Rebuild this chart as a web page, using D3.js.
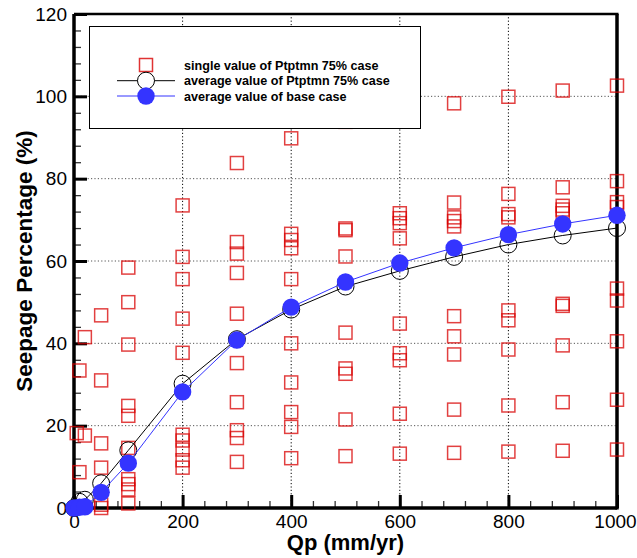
<!DOCTYPE html>
<html><head><meta charset="utf-8">
<script src="https://cdn.jsdelivr.net/npm/d3@7"></script>
<style>body{margin:0;background:#fff}svg{display:block}text{font-family:Arial,"Liberation Sans",sans-serif}</style>
</head><body><svg id="c" width="637" height="558"></svg>
<script>
// ---- data ----
const avgX = [0,10,20,50,100,200,300,400,500,600,700,800,900,1000];
const avgPtptmn75 = [0,1.5,2.0,6.0,14.0,30.2,41.0,48.2,53.8,57.6,61.0,64.0,66.2,68.0];
const avgBase = [0,0.2,0.3,3.8,10.9,28.2,40.8,48.8,54.9,59.5,63.2,66.4,69.0,71.1];

const singleX = [
  5,10,10,20,20,
  50,50,50,50,50,50,
  100,100,100,100,100,100,100,100,100,100,
  200,200,200,200,200,200,200,200,200,200,
  300,300,300,300,300,300,300,300,300,300,
  400,400,400,400,400,400,400,400,400,400,
  500,500,500,500,500,500,500,500,500,
  600,600,600,600,600,600,600,600,600,
  700,700,700,700,700,700,700,700,700,700,
  800,800,800,800,800,800,800,800,800,
  900,900,900,900,900,900,900,900,900,900,
  1000,1000,1000,1000,1000,1000,1000,1000,1000
];
const singleY = [
  18.2,33.4,8.7,41.5,17.6,
  46.8,31.0,15.7,9.8,0.8,0.0,
  58.4,50.0,39.7,24.8,22.4,14.6,7.0,5.8,4.5,1.1,
  73.5,61.0,55.6,46.0,37.7,17.8,16.4,14.2,11.6,9.8,
  83.8,64.6,61.8,57.1,47.2,35.2,25.7,18.9,17.0,11.2,
  89.8,66.6,65.1,63.1,55.6,40.0,30.5,23.3,19.7,12.1,
  93.8,67.9,67.5,61.1,42.6,33.9,32.6,21.5,12.6,
  71.6,70.4,69.2,65.5,44.8,37.6,35.9,22.9,13.2,
  98.3,74.2,70.6,69.7,68.4,46.6,41.7,37.3,23.9,13.4,
  99.9,76.3,71.4,70.6,48.0,45.6,38.5,24.9,13.7,
  101.4,77.9,73.4,72.5,71.6,49.6,49.1,39.5,25.7,13.9,
  102.6,79.4,74.3,73.1,53.3,50.4,40.5,26.3,14.2
];
const xMajorTicks = [0,200,400,600,800,1000];
const yMajorTicks = [0,20,40,60,80,100,120];
const legendLabels = ["single value of Ptptmn 75% case","average value of Ptptmn 75% case","average value of base case"];
const xTitle = "Qp (mm/yr)";
const yTitle = "Seepage Percentage (%)";

// ---- chart ----
const svg = d3.select("#c");
const x = d3.scaleLinear().domain([0,1000]).range([74,617]);
const y = d3.scaleLinear().domain([0,120]).range([508,14]);
const RED = "#d80000", BLUE = "#3434ff";

// grid
const grid = svg.append("g").attr("stroke","#000").attr("stroke-width",1).attr("stroke-dasharray","1.2,2.2");
grid.selectAll(".gx").data([200,400,600,800]).join("line")
  .attr("x1",d=>x(d)).attr("x2",d=>x(d)).attr("y1",y(0)).attr("y2",y(120));
grid.selectAll(".gy").data([20,40,60,80,100]).join("line")
  .attr("y1",d=>y(d)).attr("y2",d=>y(d)).attr("x1",x(0)).attr("x2",x(1000))
  .attr("stroke","#555");

// minor ticks
const minorX = d3.range(0,1001,40).filter(v=>v%200!==0);
const minorY = d3.range(0,121,4).filter(v=>v%20!==0);
svg.append("g").attr("transform",`translate(0,${y(0)})`)
  .call(d3.axisBottom(x).tickValues(minorX).tickSize(-7).tickFormat(""))
  .call(g=>g.select(".domain").remove())
  .call(g=>g.selectAll("line").attr("stroke","#333").attr("stroke-width",1.3));
svg.append("g").attr("transform",`translate(${x(0)},0)`)
  .call(d3.axisLeft(y).tickValues(minorY).tickSize(-7).tickFormat(""))
  .call(g=>g.select(".domain").remove())
  .call(g=>g.selectAll("line").attr("stroke","#333").attr("stroke-width",1.3));

// major axes
const xa = svg.append("g").attr("transform",`translate(0,${y(0)})`)
  .call(d3.axisBottom(x).tickValues(xMajorTicks).tickSize(-13).tickPadding(7).tickFormat(d3.format("d")));
xa.select(".domain").remove();
xa.selectAll("line").attr("stroke","#000").attr("stroke-width",3);
xa.selectAll("text").attr("font-size",19).attr("fill","#000").style("font-family","Arial, 'Liberation Sans'")
  .attr("dx",d=>d===1000?"-2":null);
const ya = svg.append("g").attr("transform",`translate(${x(0)},0)`)
  .call(d3.axisLeft(y).tickValues(yMajorTicks).tickSize(-13).tickPadding(7).tickFormat(d3.format("d")));
ya.select(".domain").remove();
ya.selectAll("line").attr("stroke","#000").attr("stroke-width",3);
ya.selectAll("text").attr("font-size",19).attr("fill","#000").style("font-family","Arial, 'Liberation Sans'");

// frame
const fr = svg.append("g").attr("stroke","#000").attr("fill","none");
fr.append("line").attr("x1",x(0)).attr("x2",x(1000)).attr("y1",y(0)).attr("y2",y(0)).attr("stroke-width",3.5);
fr.append("line").attr("x1",x(0)).attr("x2",x(0)).attr("y1",y(0)+1.5).attr("y2",y(120)).attr("stroke-width",3.5);
fr.append("line").attr("x1",x(0)).attr("x2",x(1000)+1.5).attr("y1",y(120)).attr("y2",y(120)).attr("stroke-width",2.5);
fr.append("line").attr("x1",x(1000)).attr("x2",x(1000)).attr("y1",y(120)).attr("y2",y(0)+1.5).attr("stroke-width",3.5);

// single value squares
const S = 13;
svg.append("g").selectAll("rect").data(singleX.map((d,i)=>[d,singleY[i]])).join("rect")
  .attr("x",d=>x(d[0])-S/2).attr("y",d=>y(d[1])-S/2).attr("width",S).attr("height",S)
  .attr("fill","none").attr("stroke",RED).attr("stroke-width",1.5).attr("stroke-opacity",0.75);

// average lines
const line = (arr)=>d3.line().x((d,i)=>x(avgX[i])).y(d=>y(d))(arr);
svg.append("path").attr("d",line(avgPtptmn75)).attr("fill","none").attr("stroke","#000").attr("stroke-width",1);
svg.append("g").selectAll("circle").data(avgPtptmn75).join("circle")
  .attr("cx",(d,i)=>x(avgX[i])).attr("cy",d=>y(d)).attr("r",8.5)
  .attr("fill","none").attr("stroke","#000").attr("stroke-width",1);
svg.append("path").attr("d",line(avgBase)).attr("fill","none").attr("stroke",BLUE).attr("stroke-width",1);
svg.append("g").selectAll("circle").data(avgBase).join("circle")
  .attr("cx",(d,i)=>x(avgX[i])).attr("cy",d=>y(d)).attr("r",8.7).attr("fill",BLUE);

// titles
svg.append("text").attr("x",(x(0)+x(1000))/2).attr("y",550).attr("text-anchor","middle")
  .attr("font-size",22).attr("font-weight","bold").text(xTitle);
svg.append("text").attr("transform",`translate(32,${(y(0)+y(120))/2}) rotate(-90)`).attr("text-anchor","middle")
  .attr("font-size",22.5).attr("font-weight","bold").text(yTitle);

// legend
const lg = svg.append("g");
lg.append("rect").attr("x",89.5).attr("y",26.5).attr("width",331).attr("height",102)
  .attr("fill","#fff").attr("stroke","#000").attr("stroke-width",1);
const rows = [65,80.7,96];
lg.append("rect").attr("x",146-S/2).attr("y",rows[0]-S/2).attr("width",S).attr("height",S)
  .attr("fill","none").attr("stroke",RED).attr("stroke-width",1.5).attr("stroke-opacity",0.8);
lg.append("line").attr("x1",117).attr("x2",175).attr("y1",rows[1]).attr("y2",rows[1]).attr("stroke","#000");
lg.append("circle").attr("cx",146).attr("cy",rows[1]).attr("r",8.5).attr("fill","#fff").attr("stroke","#000");
lg.append("line").attr("x1",117).attr("x2",175).attr("y1",rows[2]).attr("y2",rows[2]).attr("stroke",BLUE);
lg.append("circle").attr("cx",146).attr("cy",rows[2]).attr("r",8.7).attr("fill",BLUE);
lg.selectAll(".lt").data(legendLabels).join("text").attr("x",184).attr("y",(d,i)=>rows[i]+4.5)
  .attr("font-size",12.6).attr("font-weight","bold").text(d=>d);
</script></body></html>
